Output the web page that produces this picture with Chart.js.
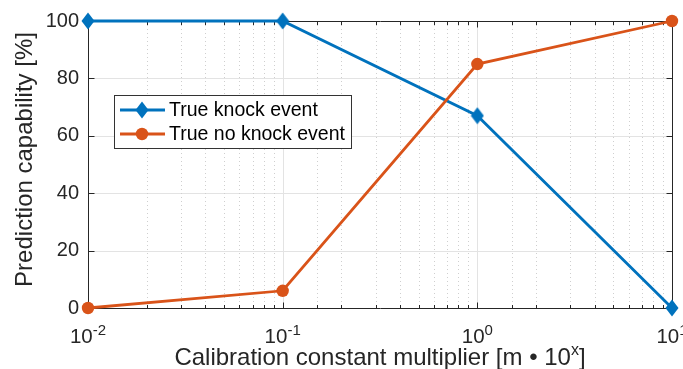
<!DOCTYPE html>
<html>
<head>
<meta charset="utf-8">
<script src="https://cdn.jsdelivr.net/npm/chart.js@4"></script>
<style>
  html, body { margin: 0; padding: 0; background: #fff; }
  canvas { display: block; }
</style>
</head>
<body>
<canvas id="c" width="683" height="369"></canvas>
<script>
// Calibration constant multipliers (x axis, log scale)
const multipliers = [0.01, 0.1, 1, 10];
// Prediction capability in percent
const trueKnock = [100, 100, 67, 0];
const trueNoKnock = [0, 6, 85, 100];
// Axis ticks
const xTickExponents = [-2, -1, 0, 1];
const yTicks = [0, 20, 40, 60, 80, 100];
const seriesNames = ['True knock event', 'True no knock event'];
const seriesColors = ['#0072BD', '#D95319'];
const yTitle = 'Prediction capability [%]';
const xTitleParts = ['Calibration constant multiplier [m \u2022 10', 'x', ']'];

const FONT = '"Liberation Sans", Arial, Helvetica, sans-serif';
const INK = '#262626';

// Slightly tall diamond marker
function diamondMarker(color) {
  const c = document.createElement('canvas');
  c.width = 14; c.height = 18;
  const g = c.getContext('2d');
  g.fillStyle = color;
  g.beginPath();
  g.moveTo(7, 0.5); g.lineTo(13.5, 9); g.lineTo(7, 17.5); g.lineTo(0.5, 9);
  g.closePath();
  g.fill();
  return c;
}
const knockMarker = diamondMarker(seriesColors[0]);

function crisp(v) { return Math.round(v) + 0.5; }
function isDecade(v) { return Math.abs(Math.log10(v) - Math.round(Math.log10(v))) < 1e-9; }

const axesPlugin = {
  id: 'axesBox',
  beforeDatasetsDraw(chart) {
    const { ctx, chartArea: a } = chart;
    const xs = chart.scales.x, ys = chart.scales.y;
    ctx.save();
    // horizontal major grid
    ctx.lineWidth = 1;
    ctx.strokeStyle = '#e3e3e3';
    yTicks.forEach(v => {
      if (v <= ys.min || v >= ys.max) return;
      const py = crisp(ys.getPixelForValue(v));
      ctx.beginPath(); ctx.moveTo(a.left, py); ctx.lineTo(a.right, py); ctx.stroke();
    });
    // vertical grid: solid at decades, dotted in between
    xs.ticks.forEach(t => {
      const v = t.value;
      if (v <= xs.min || v >= xs.max) return;
      const px = crisp(xs.getPixelForValue(v));
      ctx.beginPath();
      if (isDecade(v)) { ctx.setLineDash([]); ctx.strokeStyle = '#e3e3e3'; }
      else { ctx.setLineDash([1, 3]); ctx.strokeStyle = '#cfcfcf'; }
      ctx.moveTo(px, a.top); ctx.lineTo(px, a.bottom); ctx.stroke();
    });
    ctx.setLineDash([]);
    // axes box
    ctx.strokeStyle = INK;
    ctx.lineWidth = 1;
    const L = crisp(a.left), R = crisp(a.right), T = crisp(a.top), B = crisp(a.bottom);
    ctx.beginPath();
    ctx.moveTo(L, T); ctx.lineTo(R, T); ctx.lineTo(R, B); ctx.lineTo(L, B); ctx.closePath();
    ctx.stroke();
    // inward tick marks
    ctx.beginPath();
    xs.ticks.forEach(t => {
      const v = t.value;
      if (v < xs.min || v > xs.max) return;
      const px = crisp(xs.getPixelForValue(v));
      const len = isDecade(v) ? 6 : 3.5;
      ctx.moveTo(px, B); ctx.lineTo(px, B - len);
      ctx.moveTo(px, T); ctx.lineTo(px, T + len);
    });
    yTicks.forEach(v => {
      const py = crisp(ys.getPixelForValue(v));
      ctx.moveTo(L, py); ctx.lineTo(L + 6, py);
      ctx.moveTo(R, py); ctx.lineTo(R - 6, py);
    });
    ctx.stroke();
    ctx.restore();
  },
  afterDraw(chart) {
    const { ctx, chartArea: a } = chart;
    const xs = chart.scales.x;
    ctx.save();
    ctx.fillStyle = INK;
    ctx.textBaseline = 'alphabetic';
    ctx.textAlign = 'left';
    // x tick labels: 10 with superscript exponent
    const tickFont = '20.5px ' + FONT, tickSup = '15px ' + FONT;
    xTickExponents.forEach(e => {
      const px = xs.getPixelForValue(Math.pow(10, e));
      const supText = e < 0 ? '-' + Math.abs(e) : String(e);
      ctx.font = tickFont; const w1 = ctx.measureText('10').width;
      ctx.font = tickSup; const w2 = ctx.measureText(supText).width;
      const x0 = px - (w1 + w2) / 2;
      ctx.font = tickFont; ctx.fillText('10', x0, a.bottom + 35);
      ctx.font = tickSup; ctx.fillText(supText, x0 + w1, a.bottom + 27);
    });
    // x axis title with superscript
    const titleFont = '24px ' + FONT, titleSup = '16px ' + FONT;
    const [t1, t2, t3] = xTitleParts;
    ctx.font = titleFont; const w1 = ctx.measureText(t1).width, w3 = ctx.measureText(t3).width;
    ctx.font = titleSup; const w2 = ctx.measureText(t2).width;
    const x0 = (a.left + a.right) / 2 - (w1 + w2 + w3) / 2;
    const by = a.bottom + 57;
    ctx.font = titleFont; ctx.fillText(t1, x0, by);
    ctx.font = titleSup; ctx.fillText(t2, x0 + w1, by - 18 + 8);
    ctx.font = titleFont; ctx.fillText(t3, x0 + w1 + w2, by);

    // y axis title
    ctx.save();
    ctx.translate(25.5, (a.top + a.bottom) / 2 - 5);
    ctx.rotate(-Math.PI / 2);
    ctx.textAlign = 'center';
    ctx.textBaseline = 'middle';
    ctx.font = titleFont;
    ctx.fillText(yTitle, 0, 0);
    ctx.restore();

    // legend
    const lx = a.left + 26, ly = 95, lw = 237, lh = 53;
    ctx.fillStyle = '#ffffff';
    ctx.fillRect(lx, ly, lw, lh);
    ctx.strokeStyle = '#333333';
    ctx.lineWidth = 1;
    ctx.strokeRect(crisp(lx), crisp(ly), lw, lh);
    const rows = [ly + 15, ly + 39];
    seriesNames.forEach((name, i) => {
      const ry = rows[i];
      ctx.strokeStyle = seriesColors[i];
      ctx.lineWidth = 2.8;
      ctx.beginPath(); ctx.moveTo(lx + 6, ry); ctx.lineTo(lx + 51, ry); ctx.stroke();
      const mx = lx + 28;
      if (i === 0) {
        ctx.drawImage(knockMarker, mx - knockMarker.width / 2, ry - knockMarker.height / 2);
      } else {
        ctx.fillStyle = seriesColors[i];
        ctx.beginPath(); ctx.arc(mx, ry, 6.2, 0, Math.PI * 2); ctx.fill();
      }
      ctx.fillStyle = '#000';
      ctx.font = '19.5px ' + FONT;
      ctx.textAlign = 'left';
      ctx.textBaseline = 'middle';
      ctx.fillText(name, lx + 55, ry + 1);
    });
    ctx.restore();
  }
};

const toPoints = vals => multipliers.map((m, i) => ({ x: m, y: vals[i] }));

new Chart(document.getElementById('c'), {
  type: 'line',
  data: {
    datasets: [
      {
        label: seriesNames[0],
        data: toPoints(trueKnock),
        borderColor: seriesColors[0],
        backgroundColor: seriesColors[0],
        borderWidth: 2.8,
        pointStyle: knockMarker,
        pointRadius: 8,
        clip: false,
        order: 1
      },
      {
        label: seriesNames[1],
        data: toPoints(trueNoKnock),
        borderColor: seriesColors[1],
        backgroundColor: seriesColors[1],
        borderWidth: 2.8,
        pointStyle: 'circle',
        pointRadius: 6.2,
        pointBorderWidth: 0,
        clip: false,
        order: 0
      }
    ]
  },
  options: {
    responsive: false,
    devicePixelRatio: 1,
    animation: false,
    layout: { padding: { top: 19, right: 11, left: 0, bottom: 0 } },
    plugins: { legend: { display: false }, tooltip: { enabled: false } },
    scales: {
      x: {
        type: 'logarithmic',
        min: 0.01,
        max: 10,
        grid: { display: false, drawTicks: false },
        border: { display: false },
        ticks: { display: false },
        afterFit(s) { s.height = 61; }
      },
      y: {
        min: 0,
        max: 100,
        grid: { display: false, drawTicks: false, tickLength: 0 },
        border: { display: false },
        afterBuildTicks(s) { s.ticks = yTicks.map(v => ({ value: v })); },
        ticks: { color: INK, font: { family: FONT, size: 20 }, padding: 9 },
        title: { display: false },
        afterFit(s) { s.width = 88; }
      }
    }
  },
  plugins: [axesPlugin]
});
</script>
</body>
</html>
